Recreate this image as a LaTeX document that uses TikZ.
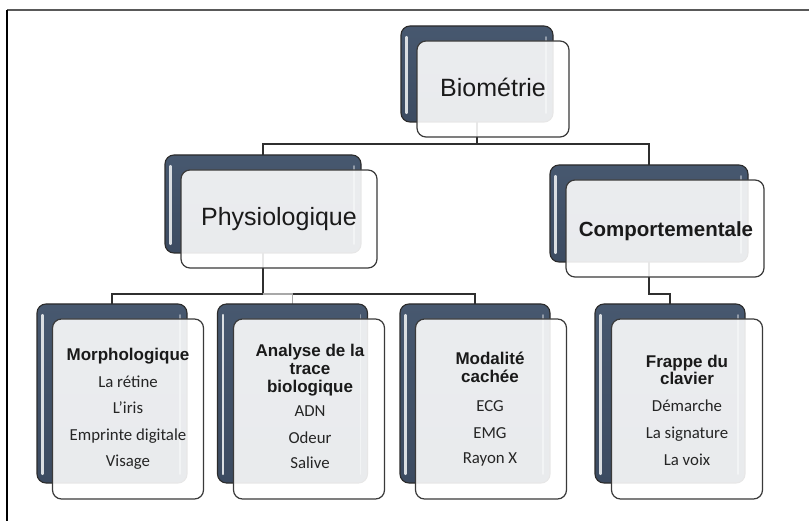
\documentclass[tikz,border=0pt]{standalone}
\usepackage{fontspec}
\setmainfont{Liberation Sans}
\newfontfamily\itemfamily{Carlito}
\usetikzlibrary{backgrounds}

\definecolor{slate}{HTML}{47586F}
\definecolor{slatedark}{HTML}{3C4B61}
\definecolor{backrim}{HTML}{2B2B2B}
\definecolor{frontrim}{HTML}{3A3A3A}
\definecolor{conncol}{HTML}{2F2F2F}
\definecolor{connlight}{HTML}{A8A8A8}
\definecolor{txt}{HTML}{1A1A1A}

\tikzset{
  backbox/.style={draw=backrim, line width=1.1pt, rounded corners=9pt,
    top color=slate, bottom color=slatedark, inner sep=0pt, outer sep=0pt,
    path picture={
      \draw[line width=2.2pt, line cap=round, color=white!80!slate]
        ([xshift=5.5pt,yshift=-11pt]path picture bounding box.north west) --
        ([xshift=5.5pt,yshift=9pt]path picture bounding box.south west);
      \draw[line width=1.6pt, line cap=round, color=white!40!slate]
        ([xshift=-7pt,yshift=-11pt]path picture bounding box.north east) --
        ([xshift=-7pt,yshift=9pt]path picture bounding box.south east);
    }},
  frontbox/.style={draw=frontrim, line width=1.2pt, rounded corners=9pt,
    fill=white, fill opacity=0.89, inner sep=0pt, outer sep=0pt},
  conn/.style={draw=conncol, line width=1.3pt},
  connpale/.style={draw=connlight, line width=1.3pt},
  toptext/.style={anchor=base, text=txt, inner sep=0pt, font=\fontsize{25}{30}\selectfont},
  midtext/.style={anchor=base, text=txt, inner sep=0pt, font=\bfseries\fontsize{20.5}{24}\selectfont},
  headtext/.style={anchor=base, text=txt, inner sep=0pt, font=\bfseries\fontsize{17}{18}\selectfont},
  itemtext/.style={anchor=base, text=txt!95!white, inner sep=0pt, font=\itemfamily\fontsize{16.8}{20}\selectfont},
}

\begin{document}
\begin{tikzpicture}[x=1pt, y=-1pt]
\useasboundingbox (0,0) rectangle (809,521);

% page frame
\draw[color=black!65, line width=2pt] (809,10.5) -- (7,10.5);
\draw[color=black, line width=1.3pt] (7,10) -- (7,521);

% back panels
\node[backbox, minimum width=152pt, minimum height=96pt, at={(477,74)}] (bioB) {};
\node[backbox, minimum width=196pt, minimum height=98pt, at={(263,204)}] (phyB) {};
\node[backbox, minimum width=198pt, minimum height=97pt, at={(649,213.5)}] (comB) {};
\node[backbox, minimum width=150pt, minimum height=179pt, at={(112,393.5)}] (morB) {};
\node[backbox, minimum width=150pt, minimum height=179pt, at={(292.5,393.5)}] (anaB) {};
\node[backbox, minimum width=150pt, minimum height=179pt, at={(475,393.5)}] (modB) {};
\node[backbox, minimum width=150pt, minimum height=179pt, at={(670,393.5)}] (fraB) {};

% front panels
\node[frontbox, minimum width=152pt, minimum height=96pt, at={(493,89)}] (bioF) {};
\node[frontbox, minimum width=196pt, minimum height=98pt, at={(279,219)}] (phyF) {};
\node[frontbox, minimum width=198pt, minimum height=97pt, at={(665,228.5)}] (comF) {};
\node[frontbox, minimum width=151pt, minimum height=180pt, at={(128,409)}] (morF) {};
\node[frontbox, minimum width=151pt, minimum height=180pt, at={(309,409)}] (anaF) {};
\node[frontbox, minimum width=151pt, minimum height=180pt, at={(491,409)}] (modF) {};
\node[frontbox, minimum width=151pt, minimum height=180pt, at={(687,409)}] (fraF) {};

% connectors, kept beneath the panels
\coordinate (topj) at (0,144);
\coordinate (lowj) at (0,294);
\begin{pgfonlayer}{background}
\draw[conn] (bioB.south) -- (bioB.south |- topj) -| (phyB.north);
\draw[conn] (bioB.south |- topj) -| (comB.north);
\draw[conn] (phyB.south) -- (phyB.south |- lowj) -| (morB.north);
\draw[connpale] (phyB.south |- lowj) -| (anaB.north);
\draw[conn] (anaB.north |- lowj) -| (modB.north);
\draw[conn] (comB.south) -- (comB.south |- lowj) -| (fraB.north);
\end{pgfonlayer}

% labels
\node[toptext] (bioT) at (493,97) {Biométrie};
\node[toptext] (phyT) at (279,226) {Physiologique};
\node[midtext] (comT) at (666,237) {Comportementale};

\node[headtext] (morH) at (128,361) {Morphologique};
\node[itemtext] (mor1) at (128,387.5) {La rétine};
\node[itemtext] (mor2) at (128,413.5) {L’iris};
\node[itemtext] (mor3) at (128,440) {Emprinte digitale};
\node[itemtext] (mor4) at (128,466) {Visage};

\node[headtext] (anaH1) at (310,357) {Analyse de la};
\node[headtext] (anaH2) at (310,374.5) {trace};
\node[headtext] (anaH3) at (310,392) {biologique};
\node[itemtext] (ana1) at (310,417) {ADN};
\node[itemtext] (ana2) at (310,443) {Odeur};
\node[itemtext] (ana3) at (310,468.5) {Salive};

\node[headtext] (modH1) at (490,365) {Modalité};
\node[headtext] (modH2) at (490,382.5) {cachée};
\node[itemtext] (mod1) at (490,412) {ECG};
\node[itemtext] (mod2) at (490,438) {EMG};
\node[itemtext] (mod3) at (490,463) {Rayon X};

\node[headtext] (fraH1) at (687,367) {Frappe du};
\node[headtext] (fraH2) at (687,384.5) {clavier};
\node[itemtext] (fra1) at (687,412) {Démarche};
\node[itemtext] (fra2) at (687,438) {La signature};
\node[itemtext] (fra3) at (687,465) {La voix};
\end{tikzpicture}
\end{document}
